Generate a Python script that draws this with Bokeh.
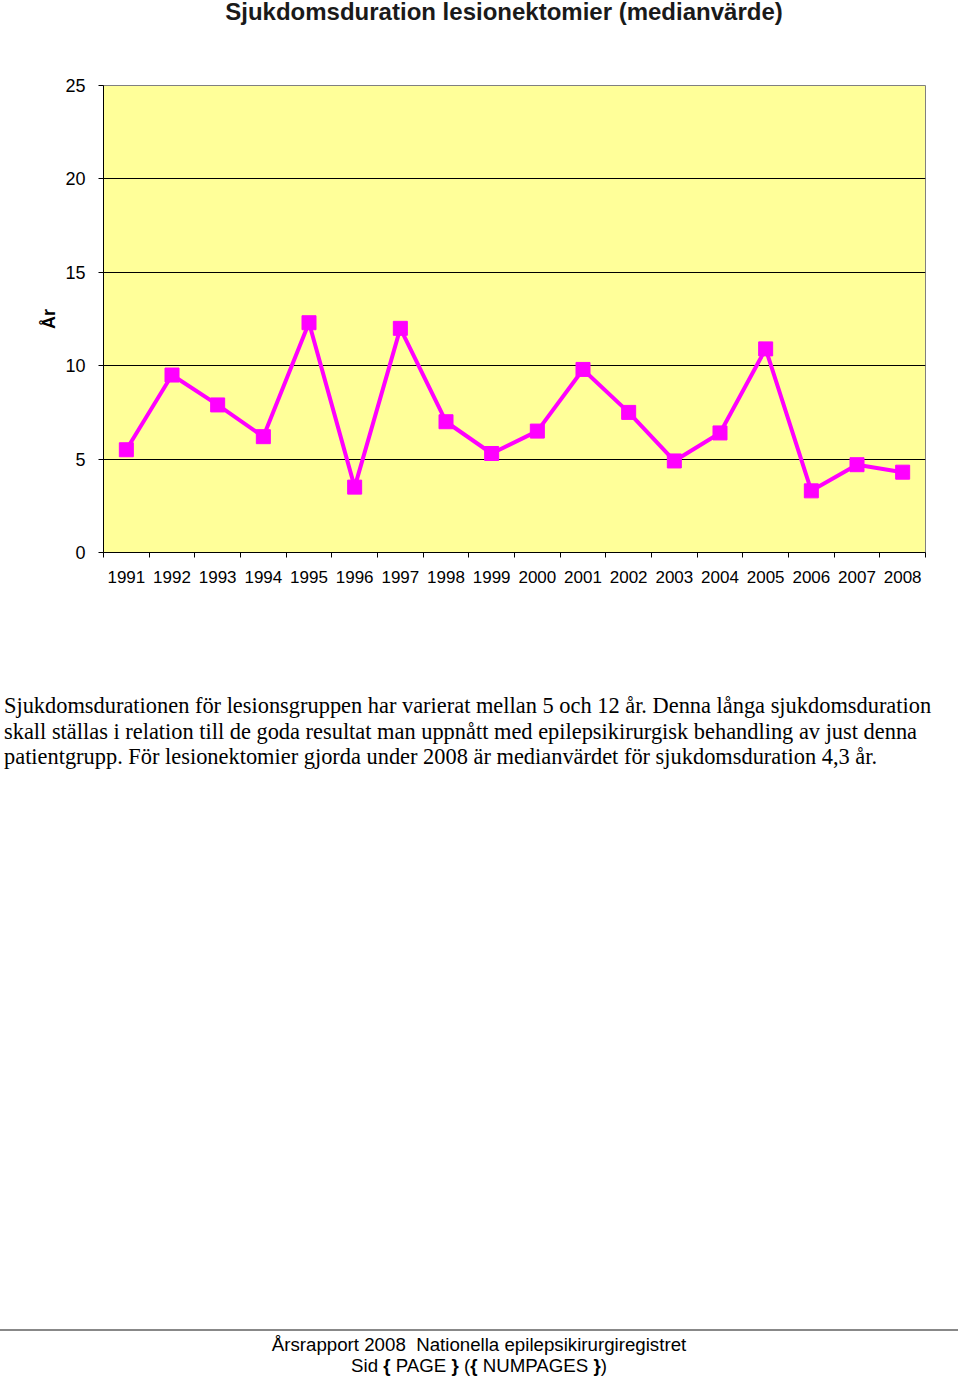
from bokeh.plotting import figure
from bokeh.models import Range1d, FixedTicker, Div, ColumnDataSource
from bokeh.layouts import column
from bokeh.embed import file_html
from bokeh.resources import INLINE

title = "Sjukdomsduration lesionektomier (medianvärde)"
years = ["1991", "1992", "1993", "1994", "1995", "1996", "1997", "1998", "1999",
         "2000", "2001", "2002", "2003", "2004", "2005", "2006", "2007", "2008"]
median_years = [5.5, 9.5, 7.9, 6.2, 12.3, 3.5, 12.0, 7.0, 5.3,
                6.5, 9.8, 7.5, 4.9, 6.4, 10.9, 3.3, 4.7, 4.3]
y_ticks = [0, 5, 10, 15, 20, 25]
y_label = "År"

paragraph_lines = [
    "Sjukdomsdurationen för lesionsgruppen har varierat mellan 5 och 12 år. Denna långa sjukdomsduration",
    "skall ställas i relation till de goda resultat man uppnått med epilepsikirurgisk behandling av just denna",
    "patientgrupp. För lesionektomier gjorda under 2008 är medianvärdet för sjukdomsduration 4,3 år.",
]
footer_line1 = "Årsrapport 2008&nbsp;&nbsp;Nationella epilepsikirurgiregistret"
footer_line2 = "Sid <b>{</b> PAGE <b>}</b> (<b>{</b> NUMPAGES <b>}</b>)"

xpos = [i + 0.5 for i in range(len(years))]
src = ColumnDataSource(dict(x=xpos, y=median_years, year=years))

title_div = Div(text=title, width=960, height=30, margin=0,
                styles={"font-family": "'Liberation Sans'", "font-size": "24px",
                        "font-weight": "bold", "line-height": "24px", "color": "#1a1a1a",
                        "text-align": "center", "padding-left": "48px",
                        "box-sizing": "border-box", "white-space": "nowrap"})

p = figure(width=960, height=570, output_backend="svg", toolbar_location=None,
           x_range=Range1d(0, len(years)), y_range=Range1d(0, 25),
           min_border_left=103, min_border_right=35, min_border_top=55, min_border_bottom=48)

p.background_fill_color = "#FFFF99"
p.border_fill_color = "white"
p.outline_line_color = "#808080"
p.outline_line_width = 1

p.line("x", "y", source=src, line_color="#FF00FF", line_width=4)
p.scatter("x", "y", source=src, marker="square", size=14,
          fill_color="#FF00FF", line_color="#FF00FF")

# x axis
xa = p.xaxis[0]
xa.ticker = FixedTicker(ticks=xpos, minor_ticks=list(range(len(years) + 1)))
xa.major_label_overrides = {x: y for x, y in zip(xpos, years)}
xa.major_tick_out = 0
xa.major_tick_in = 0
xa.minor_tick_out = 5
xa.minor_tick_in = 0
xa.minor_tick_line_color = "black"
xa.axis_line_color = "black"
xa.major_label_text_font = "Liberation Sans"
xa.major_label_text_font_size = "17px"
xa.major_label_text_color = "black"
xa.major_label_standoff = 13

# y axis
ya = p.yaxis[0]
ya.ticker = FixedTicker(ticks=y_ticks)
ya.major_tick_out = 5
ya.major_tick_in = 0
ya.minor_tick_out = 0
ya.minor_tick_in = 0
ya.axis_line_color = "black"
ya.major_label_text_font = "Liberation Sans"
ya.major_label_text_font_size = "18px"
ya.major_label_text_color = "black"
ya.major_label_standoff = 13
ya.axis_label = y_label
ya.axis_label_text_font = "Liberation Sans"
ya.axis_label_text_font_size = "18px"
ya.axis_label_text_font_style = "bold"
ya.axis_label_text_color = "black"
ya.axis_label_standoff = 3

p.xgrid.grid_line_color = None
p.ygrid.grid_line_color = "black"
p.ygrid.grid_line_width = 1
p.ygrid.ticker = FixedTicker(ticks=y_ticks)

para = Div(text="<br>".join(paragraph_lines), width=960, height=729, margin=0,
           styles={"font-family": "'Liberation Serif'", "font-size": "22.4px",
                   "line-height": "25.5px", "color": "black",
                   "padding-top": "93px", "padding-left": "4px",
                   "box-sizing": "border-box", "white-space": "nowrap",
                   "overflow": "hidden"})
footer = Div(text=footer_line1 + "<br>" + footer_line2, width=960, height=47, margin=0,
             styles={"font-family": "'Liberation Sans'", "font-size": "18.7px",
                     "line-height": "21px", "color": "black", "text-align": "center",
                     "border-top": "2px solid #888888", "box-sizing": "border-box",
                     "padding-top": "3px", "width": "958px"})

layout = column(title_div, p, para, footer, spacing=0)

open("out.html", "w").write(file_html(layout, INLINE))
